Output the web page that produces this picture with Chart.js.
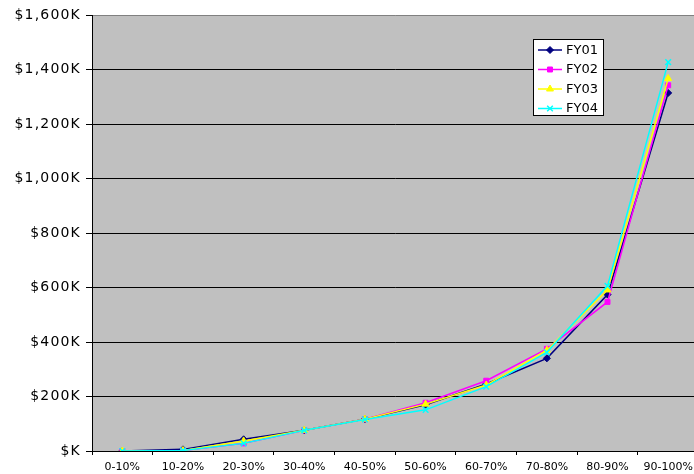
<!DOCTYPE html>
<html>
<head>
<meta charset="utf-8">
<script src="https://cdn.jsdelivr.net/npm/chart.js@4/dist/chart.umd.min.js"></script>
<style>
  html, body { margin: 0; padding: 0; background: #fff; overflow: hidden; }
  #wrap { width: 704px; height: 474px; overflow: hidden; position: relative; }
  canvas { display: block; }
</style>
</head>
<body>
<div id="wrap"><canvas id="c" width="704" height="474"></canvas></div>
<script>
// ---- data (values in $K) ----
const categories = ['0-10%', '10-20%', '20-30%', '30-40%', '40-50%', '50-60%', '60-70%', '70-80%', '80-90%', '90-100%'];
const fy01 = [0, 6, 43, 76, 117, 170, 246, 340, 574, 1314];
const fy02 = [0, 2, 28, 76, 117, 177, 258, 375, 547, 1342];
const fy03 = [0, 2, 37, 76, 117, 172, 242, 370, 591, 1367];
const fy04 = [0, 2, 28, 76, 116, 151, 236, 362, 606, 1427];
const seriesNames = ['FY01', 'FY02', 'FY03', 'FY04'];
const yTickValues = [0, 200, 400, 600, 800, 1000, 1200, 1400, 1600];

Chart.defaults.font.family = "'DejaVu Sans', Verdana, sans-serif";
Chart.defaults.color = '#000';

const styles = [
  { color: '#000080', pointStyle: 'rectRot', radius: 3.5 },
  { color: '#FF00FF', pointStyle: 'rect', radius: 3.5 },
  { color: '#FFFF00', pointStyle: 'triangle', radius: 4 },
  { color: '#00FFFF', pointStyle: 'crossRot', radius: 4 }
];
const allSeries = [fy01, fy02, fy03, fy04];

const datasets = allSeries.map((d, i) => ({
  label: seriesNames[i],
  data: d,
  borderColor: styles[i].color,
  backgroundColor: styles[i].color,
  pointBackgroundColor: styles[i].color,
  pointBorderColor: styles[i].color,
  pointStyle: styles[i].pointStyle,
  pointRadius: styles[i].radius,
  pointBorderWidth: i === 3 ? 1.5 : 1,
  borderWidth: 1.5,
  tension: 0,
  fill: false,
  order: 3 - i
}));

const bgPlugin = {
  id: 'plotBg',
  beforeDraw(chart) {
    const a = chart.chartArea, ctx = chart.ctx;
    ctx.save();
    ctx.fillStyle = '#C0C0C0';
    ctx.fillRect(a.left, a.top, a.right - a.left, a.bottom - a.top);
    ctx.restore();
    const s = chart.scales.y;
    if (s && !s._lsWrapped) {
      const orig = s.drawLabels;
      s.drawLabels = function (area) {
        const c = this.ctx;
        c.save();
        c.letterSpacing = '1.2px';
        orig.call(this, area);
        c.restore();
      };
      s._lsWrapped = true;
    }
  }
};

const legendPlugin = {
  id: 'boxLegend',
  afterDraw(chart) {
    const ctx = chart.ctx;
    const x0 = 533.5, y0 = 39.5, w = 70, h = 76;
    ctx.save();
    ctx.fillStyle = '#fff';
    ctx.fillRect(x0, y0, w, h);
    ctx.strokeStyle = '#000';
    ctx.lineWidth = 1;
    ctx.strokeRect(x0, y0, w, h);
    ctx.font = "13px 'DejaVu Sans', Verdana, sans-serif";
    ctx.textBaseline = 'middle';
    ctx.textAlign = 'left';
    chart.data.datasets.forEach((ds, i) => {
      const cy = 50 + i * 19.5;
      ctx.strokeStyle = ds.borderColor;
      ctx.lineWidth = 1.5;
      ctx.beginPath();
      ctx.moveTo(538, cy);
      ctx.lineTo(562, cy);
      ctx.stroke();
      ctx.fillStyle = ds.borderColor;
      ctx.lineWidth = ds.pointBorderWidth;
      Chart.helpers.drawPoint(ctx, { pointStyle: ds.pointStyle, radius: ds.pointRadius, rotation: 0, borderWidth: ds.pointBorderWidth }, 550, cy);
      ctx.fillStyle = '#000';
      ctx.fillText(ds.label, 566, cy + 0.5);
    });
    ctx.restore();
  }
};

new Chart(document.getElementById('c'), {
  type: 'line',
  data: { labels: categories, datasets },
  options: {
    responsive: false,
    animation: false,
    devicePixelRatio: 1,
    layout: { padding: { top: 15, right: 0, left: 0, bottom: 0 } },
    plugins: { legend: { display: false }, tooltip: { enabled: false } },
    scales: {
      x: {
        type: 'category',
        offset: true,
        grid: { display: true, offset: true, drawOnChartArea: false, color: '#000', tickLength: 4 },
        border: { display: true, color: '#000', width: 1 },
        ticks: { font: { size: 11 }, color: '#000', padding: 6, maxRotation: 0, autoSkip: false },
        afterFit(scale) { scale.height = 23; scale.paddingLeft = 0; scale.paddingRight = 0; }
      },
      y: {
        min: 0,
        max: 1600,
        afterBuildTicks(scale) { scale.ticks = yTickValues.map(v => ({ value: v })); },
        grid: {
          color: (c) => (c.tick && c.tick.value === 1600 ? '#808080' : '#000'),
          tickColor: '#000',
          tickLength: 6,
          lineWidth: 1
        },
        border: { display: true, color: '#000', width: 1 },
        ticks: {
          font: { size: 14 },
          color: '#000',
          padding: 5,
          callback: (v) => '$' + (v === 0 ? '' : Number(v).toLocaleString('en-US')) + 'K'
        },
        afterFit(scale) { scale.width = 92; scale.paddingTop = 0; scale.paddingBottom = 0; }
      }
    }
  },
  plugins: [bgPlugin, legendPlugin]
});
</script>
</body>
</html>
